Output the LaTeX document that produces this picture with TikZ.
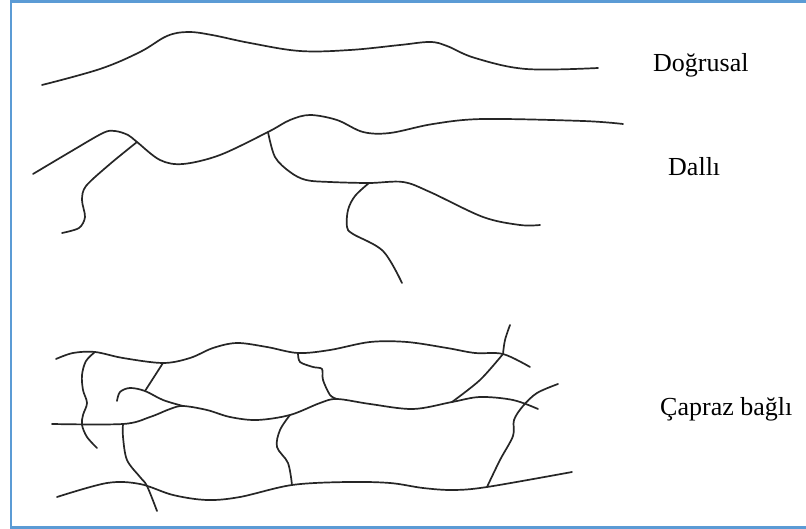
\documentclass[tikz,border=0pt]{standalone}
\usepackage{fontspec}
\setmainfont{Liberation Serif}
\begin{document}
\begin{tikzpicture}[x=1pt,y=-1pt,
  chain/.style={draw=black!85,line width=1.7pt,line cap=round,line join=round},
  link/.style={chain},
  label/.style={anchor=base west,inner sep=0pt,font=\fontsize{26}{30}\selectfont},
  frame/.style={draw={rgb,255:red,91;green,155;blue,213},line width=2.8pt}]
\useasboundingbox (0,0) rectangle (806,529);
\fill[white] (0,0) rectangle (806,529);

% frame (top, left, bottom)
\draw[frame] (806,1.3) -- (11,1.3) -- (11,527.7) -- (806,527.7);

% ---------- linear chain ----------
\draw[chain] plot[smooth,tension=0.6] coordinates {(42,85) (100,69) (140,52) (167,36) (188,32) (212,35) (250,43) (300,51) (350,50) (400,45) (430,42) (447,46) (475,58) (526,69) (598,68)};
\node[label] (lin) at (653,72) {Doğrusal};

% ---------- branched chain ----------
\coordinate (j1) at (137,142);
\coordinate (j2) at (268,132);
\coordinate (j3) at (369,183);
\draw[chain] plot[smooth,tension=0.55] coordinates {(33,174) (70,152) (103,133) (115,131) (128,135) (j1) (160,160) (183,164) (220,155) (j2) (290,120) (310,115) (337,120) (363,132) (390,133) (433,124) (483,119) (583,121) (623,124)};
\draw[chain] plot[smooth,tension=0.5] coordinates {(j1) (110,164) (86,186) (82,200) (85,217) (79,228) (62,233)};
\draw[chain] plot[smooth,tension=0.55] coordinates {(j2) (275,157) (290,172) (306,180) (330,182) (j3) (403,182) (430,192) (483,217) (520,225) (540,225)};
\draw[chain] plot[smooth,tension=0.55] coordinates {(j3) (355,196) (348,210) (347,227) (353,234) (383,251) (402,283)};
\node[label] (bra) at (668,176) {Dallı};

% ---------- cross-linked network ----------
\coordinate (a1) at (95,352);
\coordinate (a2) at (163,363);
\coordinate (a3) at (298,353);
\coordinate (a4) at (503,354);
\coordinate (c1) at (145,391);
\coordinate (b1) at (123,424);
\coordinate (m)  at (183,406);
\coordinate (k)  at (290,415);
\coordinate (c2) at (337,399);
\coordinate (c3) at (452,402);
\coordinate (d1) at (292,485);
\coordinate (d2) at (487,487);

% upper chain
\draw[chain] plot[smooth,tension=0.55] coordinates {(56,359) (73,353) (a1) (123,358) (a2) (190,358) (213,348) (237,343) (267,347) (a3) (330,350) (370,342) (407,342) (447,348) (475,353) (a4) (530,367)};
\draw[link] plot[smooth,tension=0.6] coordinates {(a4) (505,340) (510,325)};

% middle chains
\draw[chain] plot[smooth,tension=0.55] coordinates {(117,401) (120,392) (130,388) (c1) (163,400) (m)};
\draw[chain] plot[smooth,tension=0.55] coordinates {(52,424) (b1) (150,417) (170,409) (m) (207,410) (230,417) (257,420) (k) (320,403) (c2) (370,404) (413,409) (c3) (480,397) (513,400) (538,409)};
\draw[chain] plot[smooth,tension=0.55] coordinates {(558,384) (537,393) (523,406) (514,420) (513,436) (500,460) (d2)};

% lower chain
\draw[chain] plot[smooth,tension=0.55] coordinates {(57,497) (107,483) (140,484) (173,495) (207,500) (240,497) (d1) (347,482) (390,483) (423,488) (453,490) (d2) (572,472)};

% cross-links
\draw[link] plot[smooth,tension=0.55] coordinates {(a1) (86,361) (82,375) (83,390) (87,403) (83,415) (82,425) (87,437) (97,448)};
\draw[link] (a2) -- (c1);
\draw[link] plot[smooth,tension=0.5] coordinates {(a3) (300,362) (313,367) (322,369) (323,380) (330,395) (c2)};
\draw[link] plot[smooth,tension=0.5] coordinates {(a4) (480,380) (c3)};
\draw[link] plot[smooth,tension=0.55] coordinates {(k) (280,430) (277,447) (288,463) (d1)};
\draw[link] plot[smooth,tension=0.55] coordinates {(b1) (123,437) (127,460) (140,477) (147,486) (157,511)};

\node[label] (net) at (660,415) {Çapraz bağlı};
\end{tikzpicture}
\end{document}
